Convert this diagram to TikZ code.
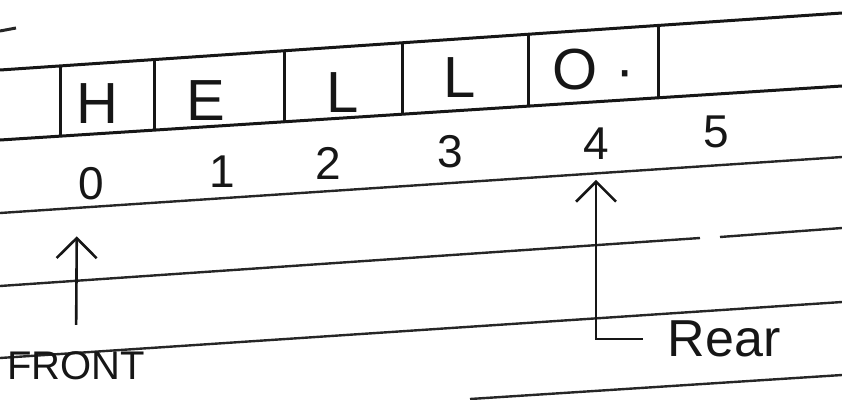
\documentclass[tikz,border=0pt]{standalone}
\usepackage{fontspec}
\setmainfont{Liberation Sans}
\usetikzlibrary{arrows.meta, calc}
\definecolor{cink}{HTML}{161616}
\definecolor{cline}{HTML}{262626}
\tikzset{
  every picture/.style={x=1pt, y=-1pt, line width=2pt},
  ruled/.style={draw=cline, line width=2.4pt},
  cellline/.style={draw=cink, line width=3pt},
  cell/.style={text=cink, font=\fontsize{58}{58}\selectfont, inner sep=0pt},
  idx/.style={text=cink, font=\fontsize{46}{46}\selectfont, inner sep=1pt},
  tag/.style={text=cink, font=\fontsize{40}{40}\selectfont, inner sep=2pt},
  pointer/.style={-{Straight Barb[length=20pt, width=40pt]}, draw=cink, line width=2.6pt},
}

\begin{document}
\begin{tikzpicture}
  \useasboundingbox (0,0) rectangle (842,399);
  % ruled lines of the page
  \coordinate (t0) at (0,70);   \coordinate (t1) at (842,13);
  \coordinate (b0) at (0,140);  \coordinate (b1) at (842,86);
  \draw[ruled, line width=3pt] (0,31) -- (16,28);
  \draw[cellline] (t0) -- (t1);
  \draw[cellline] (b0) -- (b1);
  \draw[ruled] (0,213) -- (842,157);
  \draw[ruled] (0,286) -- (700,238);
  \draw[ruled] (720,237) -- (842,228);
  \draw[ruled] (0,358) -- (842,302);
  \draw[ruled] (470,399) -- (842,375);
  % cell walls
  \foreach \d in {60,155,285,402,528,658}
    \draw[cellline] ($(t0)!{\d/842}!(t1)$) -- ($(b0)!{\d/842}!(b1)$);
  % contents
  \node[cell] (c0) at (97,104) {H};
  \node[cell] (c1) at (206,101) {E};
  \node[cell] (c2) at (343,93) {L};
  \node[cell] (c3) at (460,78) {L};
  \node[cell] (c4) at (594,70) {O\hspace{18pt}·};
  % indices
  \node[idx] (idx0) at (91,184) {0};
  \node[idx] (idx1) at (222,172) {1};
  \node[idx] (idx2) at (328,163) {2};
  \node[idx] (idx3) at (450,152) {3};
  \node[idx] (idx4) at (596,144) {4};
  \node[idx] (idx5) at (716,132) {5};
  % pointers
  \node[tag] (front) at (76,366) {FRONT};
  \node[tag, font=\fontsize{52}{52}\selectfont] (rear) at (724,339) {Rear};
  \draw[pointer, shorten <=24pt, shorten >=34pt] (front.north) -- ([xshift=-14pt]idx0.south);
  \draw[pointer, shorten <=22pt, shorten >=18pt] (rear.west) -| (idx4.south);
\end{tikzpicture}
\end{document}
